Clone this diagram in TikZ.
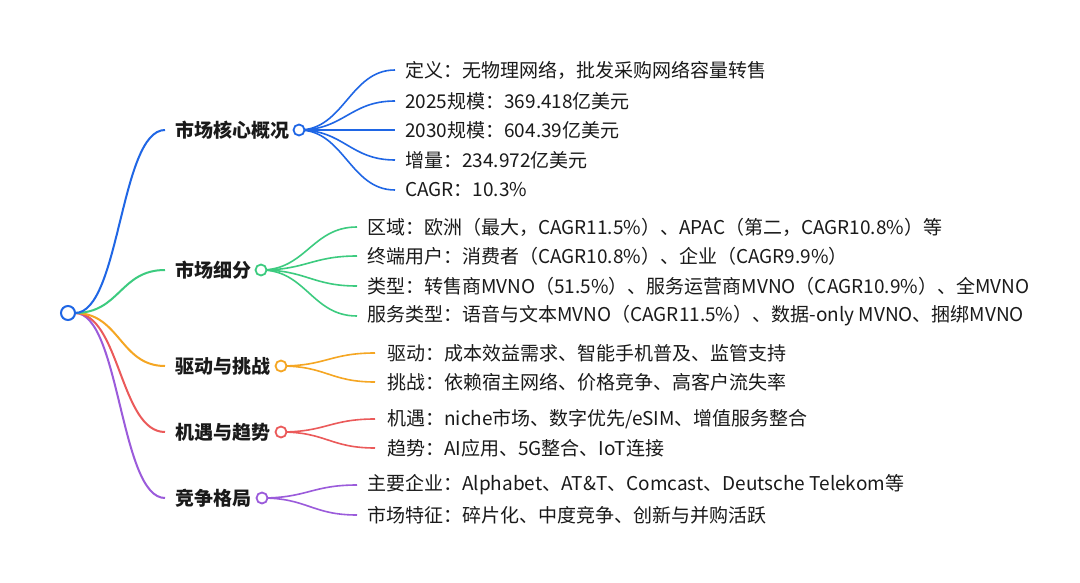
\documentclass[tikz,border=0pt]{standalone}
\usepackage{fontspec}
\setmainfont{Noto Sans CJK SC}
\definecolor{cblue}{HTML}{1F66E5}
\definecolor{cgreen}{HTML}{3CCB7F}
\definecolor{corange}{HTML}{F5A623}
\definecolor{cred}{HTML}{EB5A5A}
\definecolor{cpurple}{HTML}{9B5BDB}
\definecolor{ctext}{HTML}{1A1A1A}
\tikzset{
  leaf/.style={anchor=west,inner sep=0pt,font=\fontsize{19}{22}\selectfont,text=ctext},
  cat/.style={anchor=west,inner sep=0pt,font=\fontsize{19}{22}\selectfont\bfseries,text=ctext},
  knob/.style={circle,draw=#1,fill=white,line width=1.8pt,minimum size=11pt,inner sep=0pt},
  trunk/.style={draw=#1,line width=2pt},
  twig/.style={draw=#1,line width=1.6pt},
}
\newcommand{\link}[3]{\draw[#3] (#1) .. controls +(45,0) and +(-45,0) .. (#2);}
\begin{document}
\begin{tikzpicture}[x=1pt,y=-1pt]
\useasboundingbox[fill=white] (0,0) rectangle (1080,583);
% categories
\node[cat] (c1) at (175,130) {市场核心概况};
\node[cat] (c2) at (175,270) {市场细分};
\node[cat] (c3) at (175,366) {驱动与挑战};
\node[cat] (c4) at (175,432) {机遇与趋势};
\node[cat] (c5) at (175,498) {竞争格局};
% leaves
\node[leaf] (l11) at (405,70) {定义：无物理网络，批发采购网络容量转售};
\node[leaf] (l12) at (405,101) {2025规模：369.418亿美元};
\node[leaf] (l13) at (405,130) {2030规模：604.39亿美元};
\node[leaf] (l14) at (405,160) {增量：234.972亿美元};
\node[leaf] (l15) at (405,190) {CAGR：10.3\%};
\node[leaf] (l21) at (367,227) {区域：欧洲（最大，CAGR11.5\%）、APAC（第二，CAGR10.8\%）等};
\node[leaf] (l22) at (367,256) {终端用户：消费者（CAGR10.8\%）、企业（CAGR9.9\%）};
\node[leaf] (l23) at (367,286) {类型：转售商MVNO（51.5\%）、服务运营商MVNO（CAGR10.9\%）、全MVNO};
\node[leaf] (l24) at (367,316) {服务类型：语音与文本MVNO（CAGR11.5\%）、数据-only MVNO、捆绑MVNO};
\node[leaf] (l31) at (387,353) {驱动：成本效益需求、智能手机普及、监管支持};
\node[leaf] (l32) at (387,382) {挑战：依赖宿主网络、价格竞争、高客户流失率};
\node[leaf] (l41) at (387,419) {机遇：niche市场、数字优先/eSIM、增值服务整合};
\node[leaf] (l42) at (387,448) {趋势：AI应用、5G整合、IoT连接};
\node[leaf] (l51) at (367,485) {主要企业：Alphabet、AT\&T、Comcast、Deutsche Telekom等};
\node[leaf] (l52) at (367,515) {市场特征：碎片化、中度竞争、创新与并购活跃};
% trunks from root
\coordinate (rs) at (75,313);
\link{rs}{[xshift=-10pt]c5.west}{trunk=cpurple}
\link{rs}{[xshift=-10pt]c4.west}{trunk=cred}
\link{rs}{[xshift=-10pt]c3.west}{trunk=corange}
\link{rs}{[xshift=-10pt]c2.west}{trunk=cgreen}
\link{rs}{[xshift=-10pt]c1.west}{trunk=cblue}
% twigs
\foreach \l in {l11,l12,l13,l14,l15}{\link{299,130}{[xshift=-10pt]\l.west}{twig=cblue}}
\foreach \l in {l21,l22,l23,l24}{\link{261,270}{[xshift=-10pt]\l.west}{twig=cgreen}}
\foreach \l in {l31,l32}{\link{281,366}{[xshift=-12pt]\l.west}{twig=corange}}
\foreach \l in {l41,l42}{\link{281,432}{[xshift=-12pt]\l.west}{twig=cred}}
\foreach \l in {l51,l52}{\link{262,498}{[xshift=-10pt]\l.west}{twig=cpurple}}
% knobs
\node[knob=cblue] (c1o) at (299,130) {};
\node[knob=cgreen] (c2o) at (261,270) {};
\node[knob=corange] (c3o) at (281,366) {};
\node[knob=cred] (c4o) at (281,432) {};
\node[knob=cpurple] (c5o) at (262,498) {};
\node[circle,draw=cblue,fill=white,line width=2pt,minimum size=14pt,inner sep=0pt] (root) at (68,313) {};
\end{tikzpicture}
\end{document}
